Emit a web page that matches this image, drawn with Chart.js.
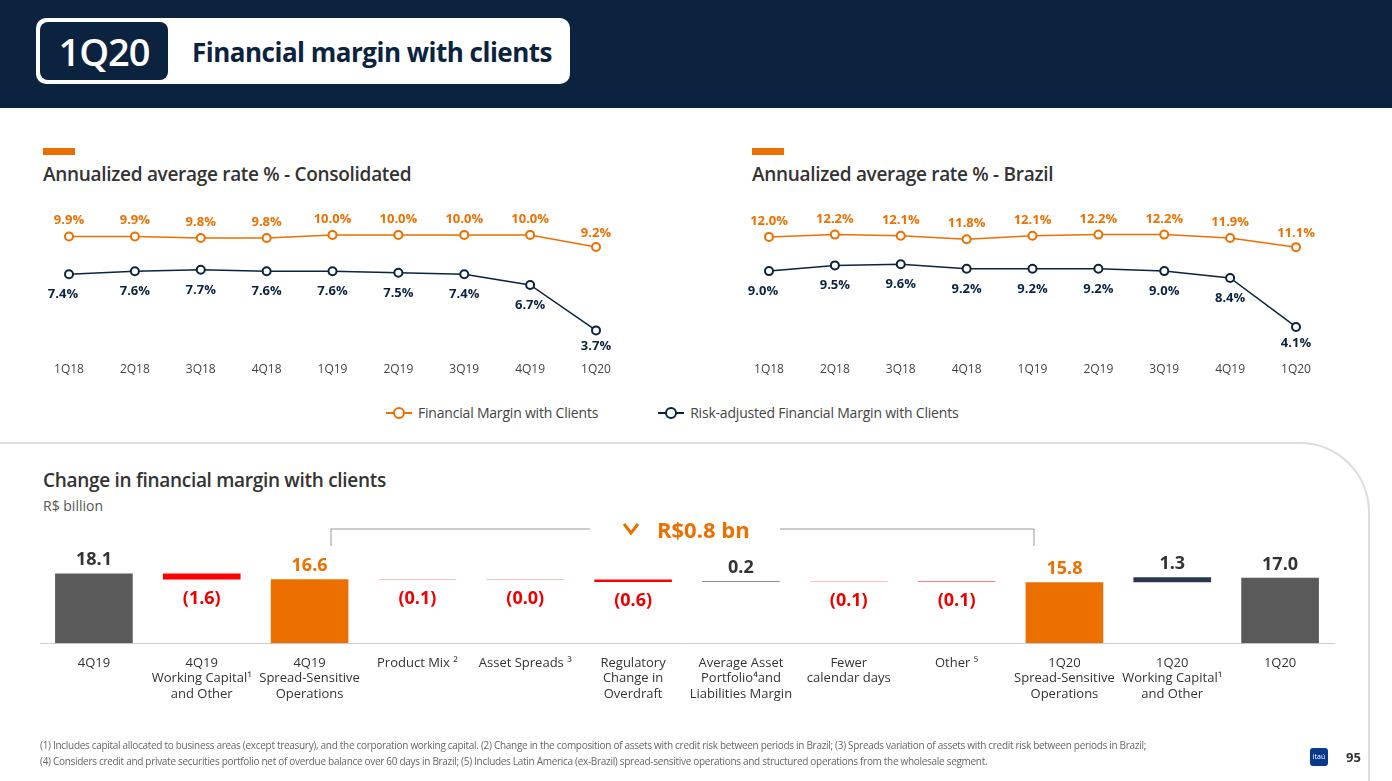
<!DOCTYPE html>
<html><head><meta charset="utf-8">
<script src="https://cdn.jsdelivr.net/npm/chart.js@4"></script>
<style>
body{margin:0;width:1392px;height:781px;position:relative;overflow:hidden;background:#fff;font-family:"Open Sans",sans-serif;color:#333}
.abs{position:absolute}
</style></head><body>
<div class="abs" style="left:0;top:0;width:1392px;height:108px;background:#0c2340"></div>
<div class="abs" style="left:36px;top:18px;width:534px;height:66px;background:#fff;border-radius:10px"></div>
<div class="abs" style="left:40px;top:22px;width:128px;height:58px;background:#0c2340;border-radius:8px;color:#fff;font-size:38px;font-weight:600;line-height:58px;text-align:center;letter-spacing:-1px">1Q20</div>
<div class="abs" style="left:192px;top:34px;font-size:26px;font-weight:700;color:#0c2340;letter-spacing:-0.5px">Financial margin with clients</div>

<div class="abs" style="left:43px;top:148px;width:32px;height:7px;background:#ec7000"></div>
<div class="abs" style="left:43px;top:161px;font-size:19px;font-weight:600;color:#333;letter-spacing:-0.3px">Annualized average rate % - Consolidated</div>
<div class="abs" style="left:752px;top:148px;width:32px;height:7px;background:#ec7000"></div>
<div class="abs" style="left:752px;top:161px;font-size:19px;font-weight:600;color:#333;letter-spacing:-0.3px">Annualized average rate % - Brazil</div>

<div class="abs" style="left:30px;top:191px;width:600px;height:200px"><canvas id="c1"></canvas></div>
<div class="abs" style="left:730px;top:191px;width:600px;height:200px"><canvas id="c2"></canvas></div>

<div class="abs" style="left:386px;top:403px;font-size:14px;color:#444;display:flex;align-items:center;gap:6px;letter-spacing:-0.2px">
<svg width="26" height="14"><line x1="0" y1="7" x2="26" y2="7" stroke="#ec7000" stroke-width="2"/><circle cx="13" cy="7" r="5" fill="#fff" stroke="#ec7000" stroke-width="2"/></svg>Financial Margin with Clients
<span style="width:48px"></span>
<svg width="26" height="14"><line x1="0" y1="7" x2="26" y2="7" stroke="#0c2340" stroke-width="2"/><circle cx="13" cy="7" r="5" fill="#fff" stroke="#0c2340" stroke-width="2"/></svg>Risk-adjusted Financial Margin with Clients
</div>

<div class="abs" style="left:0;top:442px;width:1368px;height:400px;border-top:2px solid #ddd;border-right:2px solid #ddd;border-top-right-radius:70px"></div>

<div class="abs" style="left:43px;top:467px;font-size:19px;font-weight:600;color:#333;letter-spacing:-0.3px">Change in financial margin with clients</div>
<div class="abs" style="left:43px;top:496px;font-size:14px;color:#555">R$ billion</div>

<svg class="abs" style="left:0;top:0" width="1392" height="781">
<polyline points="331,546 331,529 590,529" fill="none" stroke="#999" stroke-width="1"/>
<polyline points="780,529 1034,529 1034,546" fill="none" stroke="#999" stroke-width="1"/>
<polyline points="624,524 631,533 638,524" fill="none" stroke="#ec7000" stroke-width="3"/>
<text x="657" y="538" font-size="22" font-weight="700" fill="#ec7000" font-family="Open Sans">R$0.8 bn</text>
</svg>

<div class="abs" style="left:0;top:489px;width:1392px;height:225px"><canvas id="c3"></canvas></div>

<div class="abs" style="left:40px;top:737px;font-size:10px;color:#666;line-height:16px;letter-spacing:-0.3px">(1) Includes capital allocated to business areas (except treasury), and the corporation working capital. (2) Change in the composition of assets with credit risk between periods in Brazil; (3) Spreads variation of assets with credit risk between periods in Brazil;<br>(4) Considers credit and private securities portfolio net of overdue balance over 60 days in Brazil; (5) Includes Latin America (ex-Brazil) spread-sensitive operations and structured operations from the wholesale segment.</div>
<div class="abs" style="left:1310px;top:748px;width:18px;height:18px;background:#0a3a8c;border-radius:3px;color:#fff;font-size:7px;line-height:18px;text-align:center">itaú</div>
<div class="abs" style="left:1346px;top:748px;font-size:13px;font-weight:700;color:#333">95</div>

<script>
const quarters = ["1Q18","2Q18","3Q18","4Q18","1Q19","2Q19","3Q19","4Q19","1Q20"];
const consMargin = [9.9,9.9,9.8,9.8,10.0,10.0,10.0,10.0,9.2];
const consRisk = [7.4,7.6,7.7,7.6,7.6,7.5,7.4,6.7,3.7];
const brMargin = [12.0,12.2,12.1,11.8,12.1,12.2,12.2,11.9,11.1];
const brRisk = [9.0,9.5,9.6,9.2,9.2,9.2,9.0,8.4,4.1];

const wfLabels = [["4Q19"],["4Q19","Working Capital¹","and Other"],["4Q19","Spread-Sensitive","Operations"],["Product Mix ²"],["Asset Spreads ³"],["Regulatory","Change in","Overdraft"],["Average Asset","Portfolio⁴and","Liabilities Margin"],["Fewer","calendar days"],["Other ⁵"],["1Q20","Spread-Sensitive","Operations"],["1Q20","Working Capital¹","and Other"],["1Q20"]];
const wfBars = [[0,18.1],[16.5,18.1],[0,16.6],[16.5,16.6],[16.45,16.53],[15.9,16.5],[15.9,16.1],[16.0,16.1],[15.9,16.0],[0,15.8],[15.8,17.1],[0,17.0]];
const wfText = ["18.1","(1.6)","16.6","(0.1)","(0.0)","(0.6)","0.2","(0.1)","(0.1)","15.8","1.3","17.0"];
const wfColor = ["#5a5a5a","#ff0000","#ec7000","#ff0000","#ff0000","#ff0000","#666","#ff0000","#ff0000","#ec7000","#2a3550","#5a5a5a"];
const wfTextColor = ["#333","#e00","#ec7000","#e00","#e00","#e00","#333","#e00","#e00","#ec7000","#333","#333"];

const ORANGE = "#ec7000", NAVY = "#0c2340";

const pointLabels = {
  id: "pointLabels",
  afterDatasetsDraw(chart) {
    const ctx = chart.ctx;
    ctx.save();
    ctx.font = "bold 13px 'Open Sans'";
    ctx.textAlign = "center";
    chart.data.datasets.forEach((ds, i) => {
      chart.getDatasetMeta(i).data.forEach((p, j) => {
        ctx.fillStyle = ds.borderColor;
        const up = i === 0;
        const off = (i === 1 && j === 8) ? 20 : (up ? -12 : 24);
        const dx = (i === 1 && j === 0) ? -6 : 0;
        ctx.fillText(ds.data[j].toFixed(1) + "%", p.x + dx, p.y + (i === 0 && j === 8 ? off + 2 : off));
      });
    });
    ctx.restore();
  }
};

function lineChart(id, a, b, min, max) {
  new Chart(document.getElementById(id), {
    type: "line",
    data: { labels: quarters, datasets: [
      { data: a, borderColor: ORANGE, backgroundColor: "#fff", borderWidth: 1.5, pointRadius: 4, pointBorderWidth: 2, pointBackgroundColor: "#fff" },
      { data: b, borderColor: NAVY, backgroundColor: "#fff", borderWidth: 1.5, pointRadius: 4, pointBorderWidth: 2, pointBackgroundColor: "#fff" }
    ]},
    options: {
      responsive: true, maintainAspectRatio: false, animation: false,
      layout: { padding: { left: 39, right: 34, top: 0 } },
      plugins: { legend: { display: false }, tooltip: { enabled: false } },
      scales: {
        x: { offset: false, grid: { display: false, drawTicks: false }, border: { display: false },
             ticks: { color: "#444", font: { size: 12, family: "Open Sans" }, padding: 14 } },
        y: { display: false, min: min, max: max }
      }
    },
    plugins: [pointLabels]
  });
}
lineChart("c1", consMargin, consRisk, 2.5, 12.5);
lineChart("c2", brMargin, brRisk, 2.2, 15.5);

const wfLabelsPlugin = {
  id: "wfLabels",
  afterDatasetsDraw(chart) {
    const ctx = chart.ctx;
    ctx.save();
    ctx.font = "bold 18px 'Open Sans'";
    ctx.textAlign = "center";
    chart.getDatasetMeta(0).data.forEach((bar, i) => {
      ctx.fillStyle = wfTextColor[i];
      const neg = wfText[i].startsWith("(");
      const top = Math.min(bar.y, bar.base), bot = Math.max(bar.y, bar.base);
      if (neg) ctx.fillText(wfText[i], bar.x, bot + 24);
      else ctx.fillText(wfText[i], bar.x, top - 8);
    });
    ctx.restore();
  }
};

new Chart(document.getElementById("c3"), {
  type: "bar",
  data: { labels: wfLabels, datasets: [{ data: wfBars, backgroundColor: wfColor, barPercentage: 0.72, categoryPercentage: 1 }] },
  options: {
    responsive: true, maintainAspectRatio: false, animation: false,
    layout: { padding: { left: 40, right: 58 } },
    plugins: { legend: { display: false }, tooltip: { enabled: false } },
    scales: {
      x: { grid: { display: false, drawTicks: false }, border: { color: "#ccc" },
           ticks: { color: "#333", font: { size: 13, family: "Open Sans" }, padding: 12, maxRotation: 0, autoSkip: false } },
      y: { display: false, min: 0, max: 40 }
    }
  },
  plugins: [wfLabelsPlugin]
});
</script>
</body></html>
